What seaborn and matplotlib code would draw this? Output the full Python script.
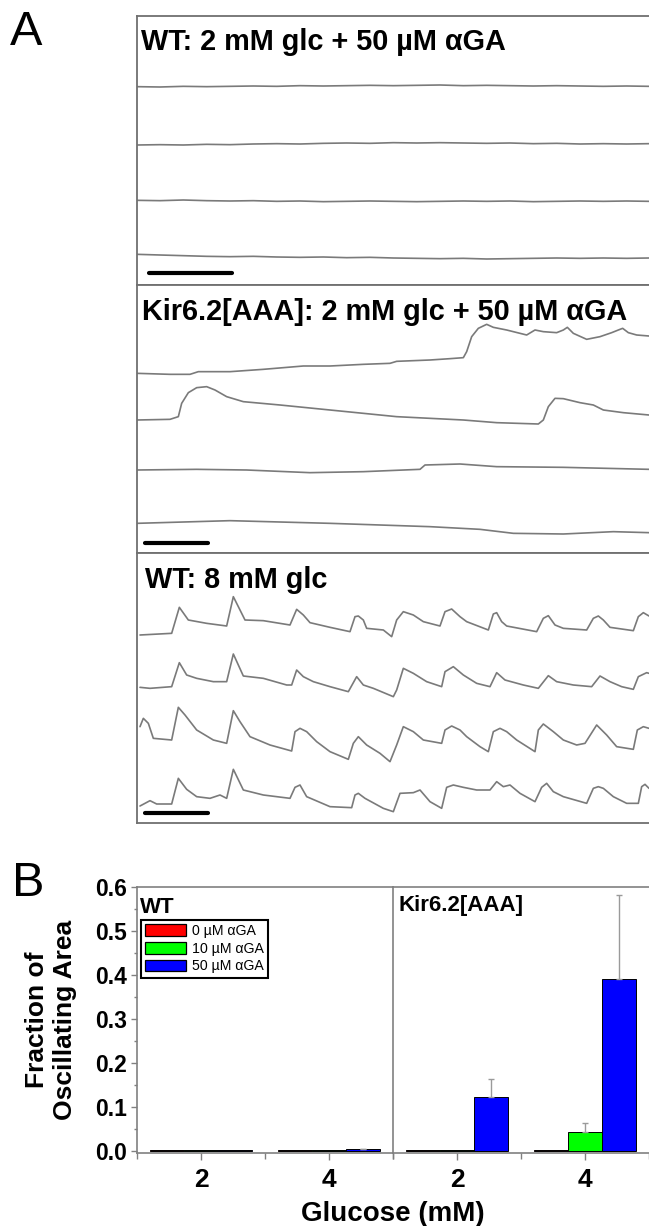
import numpy as np
import pandas as pd
import seaborn as sns
import matplotlib.pyplot as plt
from matplotlib.patches import Patch
from matplotlib.ticker import MultipleLocator, FixedLocator, FormatStrFormatter

# Panel A: traces, time in a.u., signal = deflection above each trace's own baseline (a.u.)

# WT, 2 mM glc + 50 uM aGA (flat)
wt2_t = [21, 90, 160, 230, 300, 370, 440, 510, 580, 650, 720, 790,
         860, 930, 1000, 1070, 1140, 1210, 1280, 1350, 1420, 1490, 1557]
wt2_sig = [
    [0, -1, 1, 0, 1, 2, 1, 3, 2, 3, 4, 3, 4, 5, 3, 4, 3, 2, 3, 2, 1, 2, 1],
    [-3, -2, -3, -1, -2, 0, 1, 0, 2, 3, 2, 4, 3, 4, 3, 2, 3, 1, 2, 0, 1, 0, 1],
    [2, 1, 3, 1, 0, 1, -1, 0, -2, -1, 0, -1, -2, -1, 0, -1, 0, -2, -1, 0, -1, 0, -1],
    [12, 10, 8, 6, 5, 6, 4, 3, 4, 2, 3, 1, 0, -1, 0, -2, -1, 0, 1, 0, 1, 0, 1],
]

# Kir6.2[AAA], 2 mM glc + 50 uM aGA
kir_t = [
    [21, 120, 180, 205, 300, 400, 520, 600, 700, 780, 800, 900, 960, 1000, 1010, 1025, 1045, 1070,
     1090, 1130, 1190, 1215, 1240, 1280, 1300, 1312, 1330, 1370, 1410, 1445, 1465, 1478, 1495, 1520, 1557],
    [21, 120, 145, 155, 175, 200, 230, 255, 290, 340, 450, 600, 800, 1000, 1100, 1225, 1240, 1255,
     1275, 1300, 1350, 1390, 1420, 1480, 1557],
    [21, 200, 350, 540, 700, 870, 885, 990, 1100, 1300, 1557],
    [21, 300, 600, 900, 1050, 1150, 1300, 1450, 1557],
]
kir_sig = [
    [0, -3, -3, 5, 5, 12, 22, 22, 27, 30, 36, 40, 44, 47, 65, 110, 135, 147,
     138, 130, 115, 130, 125, 122, 130, 138, 120, 102, 110, 122, 130, 135, 122, 115, 112],
    [0, 2, 10, 50, 82, 97, 100, 90, 70, 55, 45, 30, 10, 0, -8, -12, 0, 40,
     65, 64, 52, 45, 30, 22, 15],
    [0, 2, 0, -8, -5, 2, 15, 18, 10, 8, 2],
    [0, 8, 0, -10, -18, -30, -32, -25, -28],
]

# WT, 8 mM glc (oscillating)
wt8_t = [
    [30, 125, 148, 175, 230, 290, 310, 345, 400, 480, 500, 520, 540, 600, 660, 675, 685, 700, 710, 760,
     785, 800, 820, 850, 880, 930, 945, 965, 990, 1010, 1075, 1090, 1100, 1115, 1130, 1220, 1240, 1255,
     1275, 1300, 1370, 1390, 1405, 1420, 1440, 1510, 1525, 1540, 1557],
    [30, 60, 125, 148, 170, 200, 250, 290, 310, 340, 400, 470, 485, 500, 520, 550, 600, 655, 680, 700,
     730, 790, 800, 820, 850, 890, 935, 945, 970, 1000, 1040, 1080, 1100, 1125, 1180, 1225, 1255, 1280,
     1330, 1385, 1410, 1440, 1475, 1510, 1525, 1550, 1557],
    [30, 40, 55, 70, 125, 145, 165, 200, 250, 290, 310, 330, 360, 420, 485, 495, 510, 530, 560, 600,
     655, 670, 685, 710, 750, 780, 800, 820, 850, 880, 935, 945, 965, 990, 1010, 1050, 1075, 1090, 1110,
     1130, 1160, 1215, 1225, 1240, 1270, 1300, 1340, 1365, 1400, 1430, 1460, 1510, 1522, 1540, 1557],
    [30, 60, 80, 125, 145, 170, 200, 240, 270, 290, 310, 340, 400, 480, 495, 510, 530, 600, 665, 675,
     685, 705, 760, 790, 810, 850, 870, 900, 935, 950, 970, 1000, 1040, 1080, 1100, 1120, 1140, 1170,
     1215, 1235, 1250, 1270, 1300, 1370, 1390, 1405, 1420, 1450, 1490, 1525, 1535, 1545, 1557],
]
wt8_sig = [
    [-2, 3, 81, 43, 33, 25, 113, 43, 41, 28, 75, 58, 35, 21, 8, 53, 55, 43, 18, 13,
     -7, 43, 68, 58, 38, 25, 68, 76, 53, 38, 13, 61, 65, 38, 25, 8, 48, 56,
     28, 18, 13, 48, 55, 43, 21, 11, 53, 65, 55],
    [0, -3, 2, 74, 37, 27, 17, 17, 100, 34, 27, 7, 7, 52, 32, 17, 2, -13, 32, 7,
     -3, -28, -8, 57, 42, 17, 2, 47, 62, 37, 12, 2, 44, 22, 7, -3, 35, 17,
     7, 2, 34, 17, 2, -6, 32, 44, 42],
    [40, 65, 50, 5, 0, 98, 75, 30, 0, -10, 88, 55, 10, -15, -33, 25, 35, 25, -5, -35,
     -58, -10, 10, -15, -40, -65, -15, 40, 25, 0, -10, 30, 42, 30, 10, -20, -35, 25, 35,
     25, 0, -35, 30, 48, 25, 0, -15, -10, 45, 15, -20, -28, 30, 40, 35],
    [-3, 13, 3, 3, 80, 47, 25, 20, 30, 20, 107, 45, 30, 20, 53, 60, 25, -5, -8, 30,
     35, 20, -10, -20, 35, 37, 45, 10, -10, 53, 60, 53, 45, 45, 70, 55, 60, 35,
     10, 53, 65, 40, 25, 5, 50, 55, 50, 25, 5, 5, 55, 62, 50],
]

scale_len = [249, 189, 190]

# Panel B: fraction of oscillating area
glucose = ['2', '4']
aga = ['0 \u00b5M \u03b1GA', '10 \u00b5M \u03b1GA', '50 \u00b5M \u03b1GA']
wt_frac = [[0.003, 0.003], [0.003, 0.003], [0.003, 0.005]]
wt_sem = [[0, 0], [0, 0], [0, 0.001]]
kir_frac = [[0.003, 0.003], [0.003, 0.043], [0.124, 0.39]]
kir_sem = [[0, 0], [0, 0.02], [0.04, 0.192]]
bar_colors = ['#ff0000', '#00ff00', '#0000ff']

sns.set_style('white')
plt.rcParams['font.family'] = ['Liberation Sans', 'DejaVu Sans']
plt.rcParams.update({'text.color': 'black', 'axes.labelcolor': 'black',
                     'xtick.labelcolor': 'black', 'ytick.labelcolor': 'black'})

W, H = 649, 1226
fig = plt.figure(figsize=(W / 100, H / 100), dpi=100)


def px_axes(x0, y0, x1, y1):
    return fig.add_axes([x0 / W, 1 - y1 / H, (x1 - x0) / W, (y1 - y0) / H])


trace_col = '#7a7a7a'
box_col = '#707070'

# ---- panel A ----
panels = [
    dict(box=(137, 16, 649, 285), ylim=(855, 48), base=[260, 432, 603, 775],
         t=[wt2_t] * 4, sig=wt2_sig, title='WT: 2 mM glc + 50 \u00b5M \u03b1GA',
         tpos=(0.008, 0.957), bar=(57, 819)),
    dict(box=(137, 285, 649, 553), ylim=(819, 15), base=[280, 420, 570, 730],
         t=kir_t, sig=kir_sig, title='Kir6.2[AAA]: 2 mM glc + 50 \u00b5M \u03b1GA',
         tpos=(0.01, 0.952), bar=(45, 789)),
    dict(box=(137, 553, 649, 823), ylim=(819, 9), base=[253, 412, 570, 765],
         t=wt8_t, sig=wt8_sig, title='WT: 8 mM glc',
         tpos=(0.016, 0.95), bar=(45, 789)),
]

for p, sl in zip(panels, scale_len):
    ax = px_axes(*p['box'])
    for b, tt, s in zip(p['base'], p['t'], p['sig']):
        sns.lineplot(x=tt, y=b - np.array(s), ax=ax, color=trace_col, lw=1.2,
                     estimator=None, sort=False)
    ax.plot([p['bar'][0], p['bar'][0] + sl], [p['bar'][1]] * 2, color='black', lw=3,
            solid_capstyle='round')
    ax.set_xlim(21, 1557)
    ax.set_ylim(*p['ylim'])
    ax.set_xticks([])
    ax.set_yticks([])
    for k, sp in ax.spines.items():
        sp.set_color(box_col)
        sp.set_linewidth(1.3)
    ax.spines['right'].set_visible(False)
    ax.text(p['tpos'][0], p['tpos'][1], p['title'], transform=ax.transAxes,
            va='top', ha='left', fontsize=20.8, fontweight='bold')

fig.text(10 / W, 1 - 10 / H, 'A', fontsize=35, va='top', ha='left')
fig.text(12 / W, 1 - 861 / H, 'B', fontsize=35, va='top', ha='left')

# ---- panel B ----
axw = px_axes(137, 887, 393, 1153)
axk = px_axes(393, 887, 649, 1153)

for ax, frac, sem, name, npos in [(axw, wt_frac, wt_sem, 'WT', (0.012, 0.962)),
                                  (axk, kir_frac, kir_sem, 'Kir6.2[AAA]', (0.02, 0.97))]:
    df = pd.DataFrame({'glucose': glucose * 3,
                       'aga': [a for a in aga for _ in glucose],
                       'frac': np.ravel(frac)})
    sns.barplot(data=df, x='glucose', y='frac', hue='aga', order=glucose, hue_order=aga,
                palette=bar_colors, saturation=1, width=0.8, edgecolor='black', linewidth=0.7,
                errorbar=None, legend=False, ax=ax)
    for cont, s in zip(ax.containers, sem):
        for bar, e in zip(cont, s):
            if e > 0:
                ax.errorbar(bar.get_x() + bar.get_width() / 2, bar.get_height(),
                            yerr=[[0], [e]], color='#9a9a9a', lw=1, capsize=2.5, capthick=1)
    ax.set_xlim(-0.5, 1.5)
    ax.set_ylim(-0.004, 0.6)
    ax.set_xlabel('')
    ax.set_ylabel('')
    for k, sp in ax.spines.items():
        sp.set_color('#808080')
        sp.set_linewidth(1.2)
    ax.spines['right'].set_visible(False)
    ax.xaxis.set_minor_locator(FixedLocator([-0.5, 0.5, 1.5]))
    ax.tick_params(axis='x', which='major', length=5, width=1, color='#808080',
                   labelsize=19, pad=6, bottom=True)
    ax.tick_params(axis='x', which='minor', length=4, width=1, color='#808080', bottom=True)
    for lbl in ax.get_xticklabels():
        lbl.set_fontweight('bold')
    ax.text(npos[0], npos[1], name, transform=ax.transAxes, va='top', ha='left',
            fontsize=16, fontweight='bold')

axw.yaxis.set_major_locator(MultipleLocator(0.1))
axw.yaxis.set_minor_locator(MultipleLocator(0.05))
axw.yaxis.set_major_formatter(FormatStrFormatter('%.1f'))
axw.tick_params(axis='y', which='major', length=4, width=1, color='#808080',
                labelsize=16.5, pad=3, left=True)
axw.tick_params(axis='y', which='minor', length=2.5, width=1, color='#808080', left=True)
for lbl in axw.get_yticklabels():
    lbl.set_fontweight('bold')
axk.tick_params(axis='y', which='both', left=False, labelleft=False)

axw.set_ylabel('Fraction of\nOscillating Area', fontsize=19, fontweight='bold', linespacing=1.2)
axw.yaxis.set_label_coords(-0.235, 0.5)

handles = [Patch(facecolor=c, edgecolor='black', linewidth=0.9) for c in bar_colors]
leg = axw.legend(handles, aga, loc='upper left', bbox_to_anchor=(0.016, 0.876),
                 fontsize=10.2, frameon=True, fancybox=False, framealpha=1, edgecolor='black',
                 handlelength=2.9, handleheight=0.9, borderpad=0.3, labelspacing=0.25,
                 handletextpad=0.4, borderaxespad=0)
leg.get_frame().set_linewidth(1.5)

fig.text(393 / W, 5 / H, 'Glucose (mM)', ha='center', va='baseline',
         fontsize=20, fontweight='bold')

fig.savefig('out.png', dpi=100, facecolor='white')
